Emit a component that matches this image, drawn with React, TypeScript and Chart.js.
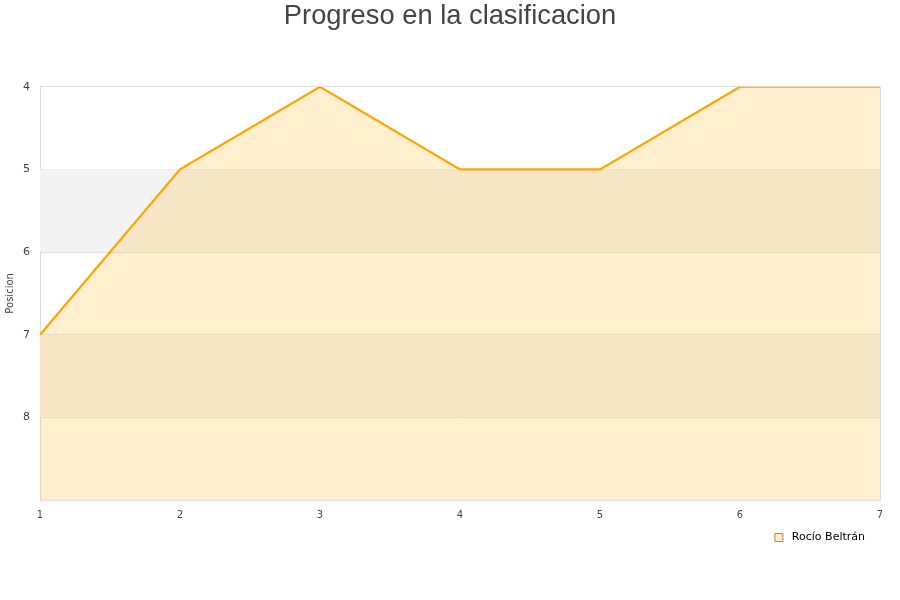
import React, { useEffect, useRef } from "react";
import { Chart, registerables } from "chart.js";

Chart.register(...registerables);

const jornadas = [1, 2, 3, 4, 5, 6, 7];
const posiciones = [7, 5, 4, 5, 5, 4, 4];
const seriesName = "Rocío Beltrán";
const titleText = "Progreso en la clasificacion";
const yTitle = "Posicion";
const bandRanges: [number, number][] = [
  [5, 6],
  [7, 8],
];

const bandsPlugin = {
  id: "bands",
  beforeDatasetsDraw(chart: any) {
    const { ctx, chartArea, scales } = chart;
    const y = scales.y;
    ctx.save();
    ctx.fillStyle = "#f3f3f3";
    bandRanges.forEach(([a, b]) => {
      const y1 = y.getPixelForValue(a);
      const y2 = y.getPixelForValue(b);
      ctx.fillRect(chartArea.left, Math.min(y1, y2), chartArea.right - chartArea.left, Math.abs(y2 - y1));
    });
    ctx.restore();
  },
};

const legendShift = {
  id: "legendShift",
  beforeDraw(chart: any) {
    const lg = chart.legend;
    if (lg && !lg._shifted) {
      lg.right -= 13;
      lg._shifted = true;
    }
  },
};

export default function App() {
  const ref = useRef<HTMLCanvasElement>(null);
  useEffect(() => {
    document.body.style.margin = "0";
    const chart = new Chart(ref.current!, {
      type: "line",
      data: {
        datasets: [
          {
            label: seriesName,
            data: jornadas.map((x, i) => ({ x, y: posiciones[i] })),
            borderColor: "#ffa500",
            backgroundColor: "rgba(255,190,60,0.25)",
            borderWidth: 2.2,
            pointRadius: 0,
            fill: { value: 9 },
            tension: 0,
          },
        ],
      },
      options: {
        animation: false,
        responsive: false,
        layout: { padding: { left: 0, right: 0, bottom: 47 } },
        plugins: {
          title: {
            display: true,
            text: titleText,
            color: "#444",
            font: { family: "Liberation Sans", size: 27.3, weight: "normal" },
            padding: { top: 0, bottom: 54 },
          },
          legend: {
            position: "bottom",
            align: "end",
            fullSize: false,
            labels: {
              boxWidth: 8,
              boxHeight: 8,
              color: "#222",
              font: { family: "DejaVu Sans", size: 11 },
              padding: 2,
              generateLabels: () => [
                {
                  text: " " + seriesName,
                  fillStyle: "#ffeccc",
                  strokeStyle: "#b08a40",
                  lineWidth: 1,
                  datasetIndex: 0,
                },
              ],
            },
          },
          tooltip: { enabled: false },
        },
        scales: {
          x: {
            type: "linear",
            min: 1,
            max: 7,
            ticks: { stepSize: 1, color: "#444", font: { family: "DejaVu Sans", size: 10 }, padding: 9 },
            grid: { display: false, drawTicks: false },
            border: { color: "#dddddd" },
          },
          y: {
            type: "linear",
            reverse: true,
            min: 4,
            max: 9,
            afterFit: (s: any) => {
              s.width = 40;
            },
            ticks: {
              stepSize: 1,
              color: "#444",
              font: { family: "DejaVu Sans", size: 11 },
              padding: 10,
              callback: (v: any) => (v === 9 ? "" : String(v)),
            },
            title: { display: true, text: yTitle, color: "#444", font: { family: "DejaVu Sans", size: 10 }, padding: 4 },
            grid: { color: "#e0e0e0", drawTicks: false },
            border: { color: "#dddddd" },
          },
          yPad: {
            type: "linear",
            position: "right",
            min: 0,
            max: 1,
            afterFit: (s: any) => {
              s.width = 20;
            },
            ticks: { display: false },
            grid: { display: false, drawTicks: false },
            border: { display: false },
          },
        },
      },
      plugins: [
        bandsPlugin,
        legendShift,
        {
          id: "frame",
          afterDatasetsDraw(chart: any) {
            const { ctx, chartArea } = chart;
            ctx.save();
            ctx.strokeStyle = "#dddddd";
            ctx.lineWidth = 1;
            ctx.beginPath();
            ctx.moveTo(chartArea.right + 0.5, chartArea.top);
            ctx.lineTo(chartArea.right + 0.5, chartArea.bottom);
            ctx.stroke();
            ctx.restore();
          },
        },
      ],
    });
    return () => chart.destroy();
  }, []);
  return (
    <div style={{ width: 900, height: 600 }}>
      <canvas ref={ref} width={900} height={600} />
    </div>
  );
}
